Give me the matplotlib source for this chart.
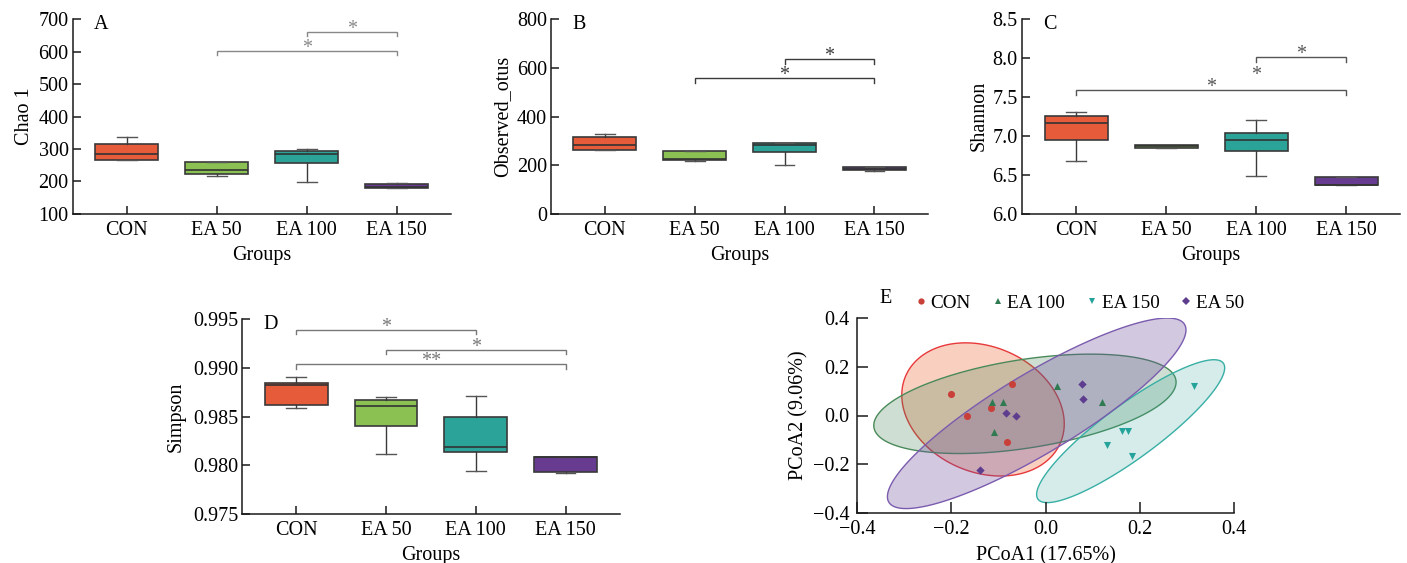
import numpy as np
import matplotlib
matplotlib.use('Agg')
import matplotlib.pyplot as plt
from matplotlib.lines import Line2D
from matplotlib.colors import to_rgba

plt.rcParams['font.family'] = ['Liberation Serif', 'DejaVu Serif']
plt.rcParams['font.size'] = 14.5
plt.rcParams['axes.unicode_minus'] = True

# ---------------- data ----------------
groups = ['CON', 'EA 50', 'EA 100', 'EA 150']
box_colors = ['#E65C3B', '#8BC153', '#2CA399', '#673B90']

# Chao 1
chao_whislo = [265, 216.6, 199, 178]
chao_q1 = [265, 223.7, 256, 179.5]
chao_med = [285.6, 234, 283.7, 181]
chao_q3 = [314.6, 261, 294, 192.8]
chao_whishi = [338, 261, 299, 194]
chao_sig = [(1, 3, 603, 13, '*'), (2, 3, 662, 12, '*')]

# Observed otus
obs_whislo = [261, 216, 200, 177]
obs_q1 = [261, 222, 253, 178.5]
obs_med = [283, 225, 284, 185]
obs_q3 = [314.5, 259, 292, 192]
obs_whishi = [329, 259, 293, 194]
obs_sig = [(1, 3, 557, 18, '*'), (2, 3, 636, 20, '*')]

# Shannon
sha_whislo = [6.68, 6.845, 6.49, 6.365]
sha_q1 = [6.94, 6.85, 6.81, 6.368]
sha_med = [7.17, 6.87, 6.95, 6.372]
sha_q3 = [7.25, 6.886, 7.03, 6.467]
sha_whishi = [7.306, 6.886, 7.20, 6.475]
sha_sig = [(0, 3, 7.585, 0.055, '*'), (2, 3, 8.01, 0.06, '*')]
sha_lone = [(2, 7.74, '*')]

# Simpson
sim_whislo = [0.98586, 0.98119, 0.97942, 0.97918]
sim_q1 = [0.98620, 0.98407, 0.98134, 0.97928]
sim_med = [0.98822, 0.98609, 0.98185, 0.98082]
sim_q3 = [0.98849, 0.98671, 0.98496, 0.98085]
sim_whishi = [0.98910, 0.98702, 0.98709, 0.98090]
sim_sig = [(0, 2, 0.99393, 0.00047, '*'), (1, 3, 0.99188, 0.00044, '*'),
           (0, 3, 0.99038, 0.00052, '**')]

# PCoA
pcoa_groups = ['CON', 'EA 100', 'EA 150', 'EA 50']
pcoa_point_colors = ['#C9403A', '#2F7A50', '#24A39B', '#5E3C8E']
pcoa_edge_colors = ['#E8393B', '#4A8A5A', '#38AFA5', '#7B5BAE']
pcoa_fill_colors = ['#F08A63', '#3E7E4E', '#2EA39A', '#6A4C9C']
pcoa_fill_alpha = [0.4, 0.25, 0.2, 0.3]
pcoa_markers = ['o', '^', 'v', 'D']
pcoa_x = [[-0.201, -0.166, -0.116, -0.072, -0.082],
          [-0.114, -0.091, -0.110, 0.025, 0.119],
          [0.130, 0.162, 0.175, 0.184, 0.315],
          [0.078, 0.079, -0.085, -0.062, -0.140]]
pcoa_y = [[0.089, -0.001, 0.032, 0.129, -0.108],
          [0.055, 0.055, -0.066, 0.123, 0.055],
          [-0.120, -0.062, -0.062, -0.167, 0.123],
          [0.130, 0.066, 0.012, -0.004, -0.226]]
# ellipses: centre x, centre y, half-width, half-height, correlation
ell_cx = [-0.133, -0.044, 0.1805, -0.019]
ell_cy = [0.025, 0.048, -0.0645, 0.009]
ell_hx = [0.1725, 0.321, 0.1997, 0.317]
ell_hy = [0.274, 0.2045, 0.294, 0.392]
ell_rho = [-0.215, 0.435, 0.886, 0.875]

# ---------------- figure ----------------
fig = plt.figure(figsize=(14.07, 5.63), dpi=100)
W, H = 1407, 563


def ax_px(left, top, right, bottom):
    return fig.add_axes([left / W, 1 - bottom / H, (right - left) / W, (bottom - top) / H])


def style(ax, tick_len=6, xpad=5, ypad=3):
    for s in ['top', 'right']:
        ax.spines[s].set_visible(False)
    for s in ['left', 'bottom']:
        ax.spines[s].set_linewidth(1.1)
        ax.spines[s].set_color('#1a1a1a')
    ax.tick_params(axis='both', direction='in', length=tick_len, width=1.1, color='#1a1a1a')
    ax.tick_params(axis='x', pad=xpad)
    ax.tick_params(axis='y', pad=ypad)


def boxpanel(ax, whislo, q1, med, q3, whishi, ylim, yticks, yfmt, ylabel, letter,
             sig, lone, sig_color, ylabelpad=3):
    stats = []
    for i in range(len(groups)):
        stats.append(dict(med=med[i], q1=q1[i], q3=q3[i], whislo=whislo[i],
                          whishi=whishi[i], fliers=[]))
    bp = ax.bxp(stats, positions=range(len(groups)), widths=0.7, patch_artist=True,
                showfliers=False, capwidths=0.22,
                boxprops=dict(edgecolor='#3a3a3a', linewidth=1.2),
                medianprops=dict(color='#333333', linewidth=1.2),
                whiskerprops=dict(color='#3a3a3a', linewidth=1.0),
                capprops=dict(color='#555555', linewidth=1.0))
    for patch, c in zip(bp['boxes'], box_colors):
        patch.set_facecolor(c)
    ax.set_xlim(-0.6, 3.6)
    ax.set_ylim(*ylim)
    ax.set_yticks(yticks)
    ax.set_yticklabels([yfmt % v for v in yticks])
    ax.set_xticks(range(len(groups)))
    ax.set_xticklabels(groups)
    style(ax)
    ax.set_xlabel('Groups', labelpad=4.5)
    ax.set_ylabel(ylabel, labelpad=ylabelpad)
    ax.text(0.057, 0.9486, letter, transform=ax.transAxes, ha='left', va='baseline')
    for (i, j, y, d, lab) in sig:
        ax.plot([i, i, j, j], [y - d, y, y, y - d], color=sig_color, lw=1.0,
                solid_joinstyle='miter', clip_on=False)
        ax.annotate(lab, xy=((i + j) / 2, y), xytext=(0, -1.5), textcoords='offset points',
                    ha='center', va='baseline', color=sig_color)
    for (i, y, lab) in lone:
        ax.annotate(lab, xy=(i, y), xytext=(0, -1.5), textcoords='offset points',
                    ha='center', va='baseline', color=sig_color)


axA = ax_px(72.7, 19.3, 450.7, 213.7)
boxpanel(axA, chao_whislo, chao_q1, chao_med, chao_q3, chao_whishi, (100, 700),
         [100, 200, 300, 400, 500, 600, 700], '%d', 'Chao 1', 'A', chao_sig, [], '#888888')

axB = ax_px(551, 19.3, 928.3, 213.7)
boxpanel(axB, obs_whislo, obs_q1, obs_med, obs_q3, obs_whishi, (0, 800),
         [0, 200, 400, 600, 800], '%d', 'Observed_otus', 'B', obs_sig, [], '#3a3a3a')

axC = ax_px(1022, 19.0, 1400, 213.7)
boxpanel(axC, sha_whislo, sha_q1, sha_med, sha_q3, sha_whishi, (6.0, 8.5),
         [6.0, 6.5, 7.0, 7.5, 8.0, 8.5], '%.1f', 'Shannon', 'C', sha_sig, sha_lone, '#555555')

axD = ax_px(242.3, 319.3, 619.5, 514.0)
boxpanel(axD, sim_whislo, sim_q1, sim_med, sim_q3, sim_whishi, (0.975, 0.995),
         [0.975, 0.980, 0.985, 0.990, 0.995], '%.3f', 'Simpson', 'D', sim_sig, [], '#777777',
         ylabelpad=5)

# ---------------- PCoA panel ----------------
axE = ax_px(857.3, 318.3, 1234.0, 512.7)
t = np.linspace(0, 2 * np.pi, 300)
for k in range(len(pcoa_groups)):
    hx, hy, r = ell_hx[k], ell_hy[k], ell_rho[k]
    S = np.array([[hx * hx, r * hx * hy], [r * hx * hy, hy * hy]])
    L = np.linalg.cholesky(S)
    pts = (L @ np.vstack([np.cos(t), np.sin(t)])).T + np.array([ell_cx[k], ell_cy[k]])
    axE.fill(pts[:, 0], pts[:, 1], facecolor=to_rgba(pcoa_fill_colors[k], pcoa_fill_alpha[k]),
             edgecolor=pcoa_edge_colors[k], linewidth=1.0, zorder=1)

handles = []
for k in range(len(pcoa_groups)):
    s = 18 if pcoa_markers[k] == 'D' else 26
    axE.scatter(pcoa_x[k], pcoa_y[k], s=s, marker=pcoa_markers[k], color=pcoa_point_colors[k],
                linewidths=0, zorder=3)
    handles.append(Line2D([], [], linestyle='none', marker=pcoa_markers[k],
                          color=pcoa_point_colors[k],
                          markersize=3.6 if pcoa_markers[k] == 'D' else 4.5,
                          markeredgewidth=0))

axE.set_xlim(-0.4, 0.4)
axE.set_ylim(-0.4, 0.4)
ticksE = [-0.4, -0.2, 0.0, 0.2, 0.4]
labsE = [('%.1f' % v).replace('-', '\u2212') for v in ticksE]
axE.set_xticks(ticksE)
axE.set_xticklabels(labsE)
axE.set_yticks(ticksE)
axE.set_yticklabels(labsE)
style(axE, tick_len=8, xpad=5.2, ypad=5.5)
axE.set_xlabel('PCoA1 (17.65%)', labelpad=5.5)
axE.set_ylabel('PCoA2 (9.06%)', labelpad=3)
axE.text(0.06, 1.080, 'E', transform=axE.transAxes, ha='left', va='baseline')
axE.legend(handles, pcoa_groups, ncol=4, loc='center left', bbox_to_anchor=(0.149, 1.079),
           frameon=False, handletextpad=0.1, columnspacing=1.0, handlelength=0.8,
           borderpad=0, borderaxespad=0, fontsize=13.8)

fig.savefig('out.png', dpi=100)
